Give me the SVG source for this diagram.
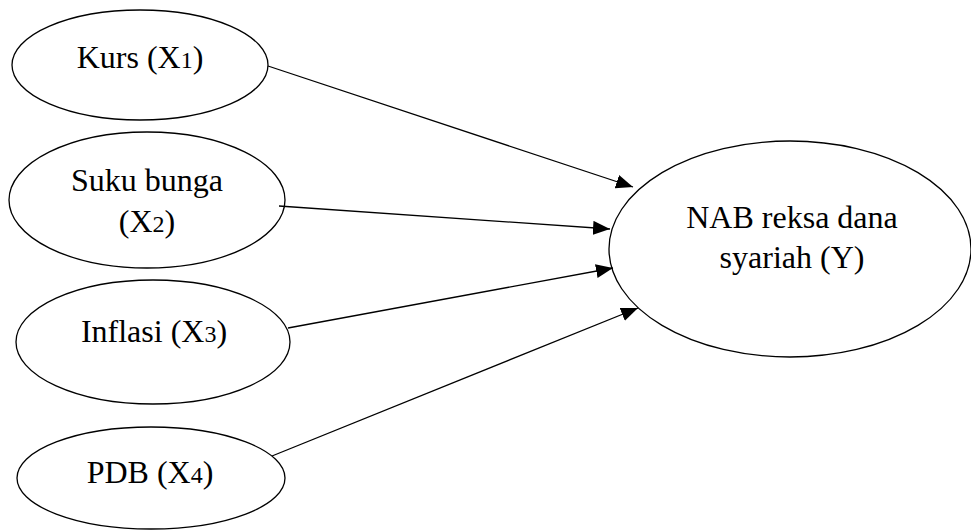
<svg xmlns="http://www.w3.org/2000/svg" width="971" height="530" viewBox="0 0 971 530">
<style>
.node ellipse{fill:#fff;stroke:#000;stroke-width:1.3}
text{font-family:"Liberation Serif","Times New Roman",serif;font-size:32px;fill:#000;text-anchor:middle}
.sub{font-size:24px}
.edge{stroke:#000;stroke-width:1.3;fill:none;marker-end:url(#arr)}
</style>
<defs>
<marker id="arr" markerUnits="userSpaceOnUse" markerWidth="18" markerHeight="14" refX="17" refY="7" orient="auto">
<path d="M0,0 L17,7 L0,14 z" fill="#000"/>
</marker>
</defs>
<rect width="971" height="530" fill="#fff"/>
<g id="n1" class="node"><ellipse cx="140" cy="65" rx="128" ry="55"/><text x="140" y="68">Kurs (X<tspan class="sub">1</tspan>)</text></g>
<g id="n2" class="node"><ellipse cx="147" cy="200" rx="138" ry="68"/><text x="147" y="191">Suku bunga</text><text x="147" y="232">(X<tspan class="sub">2</tspan>)</text></g>
<g id="n3" class="node"><ellipse cx="153" cy="342" rx="137" ry="62"/><text x="154" y="342">Inflasi (X<tspan class="sub">3</tspan>)</text></g>
<g id="n4" class="node"><ellipse cx="151" cy="478" rx="134" ry="51"/><text x="150" y="483">PDB (X<tspan class="sub">4</tspan>)</text></g>
<g id="ny" class="node"><ellipse cx="790" cy="249" rx="181" ry="108"/><text x="792" y="228">NAB reksa dana</text><text x="792" y="268">syariah (Y)</text></g>
<g id="edges">
<line class="edge" x1="268" y1="66" x2="633" y2="187"/>
<line class="edge" x1="279" y1="206" x2="610" y2="229"/>
<line class="edge" x1="288" y1="328" x2="613" y2="268"/>
<line class="edge" x1="272" y1="456" x2="638" y2="308"/>
</g>
</svg>
